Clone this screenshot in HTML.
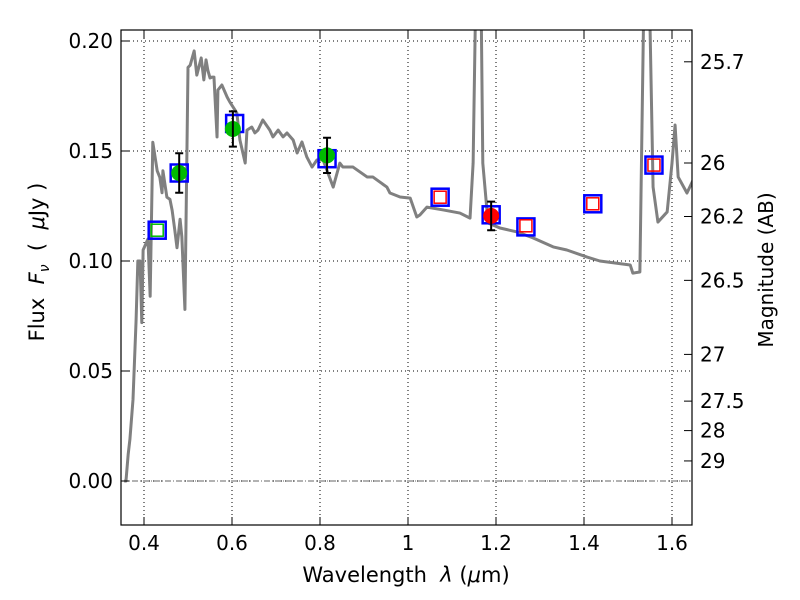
<!DOCTYPE html>
<html><head><meta charset="utf-8"><style>
body{margin:0;background:#fff}
svg{display:block;font-family:"DejaVu Sans","Liberation Sans",sans-serif}
</style></head><body>
<svg id="c" width="800" height="600"></svg>
<script>
const specLam=[0.355,0.359,0.364,0.368,0.375,0.382,0.386,0.391,0.395,0.398,0.409,0.414,0.420,0.430,0.436,0.441,0.443,0.452,0.459,0.464,0.470,0.475,0.482,0.486,0.493,0.500,0.505,0.514,0.520,0.530,0.536,0.541,0.545,0.550,0.555,0.559,0.566,0.568,0.577,0.589,0.595,0.611,0.618,0.630,0.634,0.645,0.652,0.659,0.670,0.686,0.693,0.705,0.716,0.725,0.739,0.748,0.759,0.770,0.782,0.793,0.807,0.830,0.845,0.852,0.875,0.907,0.920,0.952,0.959,0.982,1.005,1.020,1.027,1.043,1.080,1.118,1.141,1.148,1.157,1.164,1.170,1.182,1.209,1.248,1.284,1.330,1.361,1.407,1.436,1.505,1.511,1.527,1.539,1.545,1.557,1.568,1.589,1.600,1.607,1.614,1.634,1.648];
const specFlux=[0,0,0.012,0.019,0.037,0.073,0.100,0.100,0.072,0.105,0.110,0.084,0.154,0.141,0.138,0.131,0.141,0.129,0.128,0.123,0.114,0.106,0.119,0.111,0.078,0.188,0.189,0.1955,0.1845,0.1923,0.1823,0.1914,0.1868,0.1832,0.1836,0.1836,0.1564,0.1777,0.180,0.1745,0.1723,0.1673,0.155,0.1445,0.1595,0.1609,0.1582,0.1595,0.1641,0.1595,0.1564,0.1595,0.1564,0.1582,0.155,0.1491,0.1541,0.1473,0.1427,0.1459,0.1459,0.1336,0.1445,0.1427,0.1427,0.1382,0.1382,0.1336,0.1309,0.1291,0.1286,0.1200,0.1209,0.1245,0.1232,0.1218,0.1195,0.1445,0.26,0.26,0.1445,0.1173,0.115,0.1132,0.1105,0.1064,0.105,0.1018,0.1000,0.0982,0.0945,0.095,0.26,0.26,0.1336,0.1177,0.1223,0.1445,0.1618,0.1382,0.1309,0.1368];
const obsLam=[0.480,0.602,0.816,1.189];
const obsFlux=[0.140,0.160,0.148,0.1205];
const obsErr=[0.009,0.008,0.008,0.0065];
const obsColor=["#00bb00","#00bb00","#00bb00","#ff0000"];
const limLam=[0.430,1.073,1.268,1.420,1.559];
const limFlux=[0.114,0.129,0.116,0.126,0.1436];
const limColor=["#00bb00","#ff0000","#ff0000","#ff0000","#ff0000"];
const modLam=[0.430,0.480,0.606,0.816,1.073,1.189,1.268,1.420,1.559];
const modFlux=[0.114,0.140,0.1625,0.1465,0.129,0.121,0.1155,0.126,0.1436];
const xTicks=[0.4,0.6,0.8,1.0,1.2,1.4,1.6];
const xTickLabels=["0.4","0.6","0.8","1","1.2","1.4","1.6"];
const yTicks=[0,0.05,0.10,0.15,0.20];
const yTickLabels=["0.00","0.05","0.10","0.15","0.20"];
const magTicks=[25.7,26,26.2,26.5,27,27.5,28,29];
const magLabels=["25.7","26","26.2","26.5","27","27.5","28","29"];

const L=121,R=692,T=30,B=525;
const X=v=>144+(v-0.4)*440;
const Y=v=>481-v*2200;
const svg=document.getElementById('c');
const NS="http://www.w3.org/2000/svg";
function mk(t,a,p){const e=document.createElementNS(NS,t);for(const k in a)e.setAttribute(k,a[k]);(p||svg).appendChild(e);return e;}

const defs=mk('defs',{});const cp=mk('clipPath',{id:'pc'},defs);mk('rect',{x:L,y:T,width:R-L,height:B-T},cp);

xTicks.forEach((v,i)=>{const g=mk('line',{x1:X(v),x2:X(v),y1:T,y2:B,stroke:'#000','stroke-dasharray':'1,3','stroke-width':1});
});
yTicks.forEach(v=>{const g=mk('line',{x1:L,x2:R,y1:Y(v),y2:Y(v),stroke:'#000','stroke-dasharray':'1,3','stroke-width':1});
});
const zl=mk('line',{x1:L,x2:R,y1:Y(0),y2:Y(0),stroke:'#666','stroke-dasharray':'6,2,1,2','stroke-width':1});


const sp=mk('polyline',{points:specLam.map((l,i)=>X(l)+','+Y(specFlux[i])).join(' '),fill:'none',stroke:'#808080','stroke-width':3,'clip-path':'url(#pc)','stroke-linejoin':'round'});


modLam.forEach((l,i)=>{const r=mk('rect',{x:X(l)-8.5,y:Y(modFlux[i])-8.5,width:17,height:17,fill:'none',stroke:'#0000ff','stroke-width':2.5});
});
limLam.forEach((l,i)=>{const r=mk('rect',{x:X(l)-6,y:Y(limFlux[i])-6,width:12,height:12,fill:'none',stroke:limColor[i],'stroke-width':1.5});
});
obsLam.forEach((l,i)=>{const x=X(l);
const c=mk('circle',{cx:x,cy:Y(obsFlux[i]),r:8,fill:obsColor[i]});

const e=mk('path',{d:`M${x},${Y(obsFlux[i]+obsErr[i])}V${Y(obsFlux[i]-obsErr[i])}M${x-4},${Y(obsFlux[i]+obsErr[i])}h8M${x-4},${Y(obsFlux[i]-obsErr[i])}h8`,stroke:'#000','stroke-width':2,fill:'none'});
});

const fr=mk('rect',{x:L,y:T,width:R-L,height:B-T,fill:'none',stroke:'#000','stroke-width':1.2});


xTicks.forEach((v,i)=>{const x=X(v);
mk('path',{d:`M${x},${B}v-8M${x},${T}v8`,stroke:'#000','stroke-width':1});
const t=mk('text',{x:x,y:B+25,'text-anchor':'middle','font-size':20});t.textContent=xTickLabels[i];
});
yTicks.forEach((v,i)=>{const y=Y(v);
mk('path',{d:`M${L},${y}h8`,stroke:'#000','stroke-width':1});
const t=mk('text',{x:L-8,y:y+7,'text-anchor':'end','font-size':20});t.textContent=yTickLabels[i];
});
magTicks.forEach((m,i)=>{const y=Y(Math.pow(10,-0.4*(m-23.9)));
mk('path',{d:`M${R},${y}h-8`,stroke:'#000','stroke-width':1});
const t=mk('text',{x:R+8,y:y+7,'font-size':20});t.textContent=magLabels[i];
});
</script>
<svg width="800" height="600" style="position:absolute;left:0;top:0;font-family:'DejaVu Sans','Liberation Sans',sans-serif;white-space:pre">
<text x="406" y="582" text-anchor="middle" font-size="21" xml:space="preserve">Wavelength  <tspan font-style="italic">λ</tspan> (<tspan font-style="italic">μ</tspan>m)</text>
<text transform="translate(44,262) rotate(-90)" text-anchor="middle" font-size="21" xml:space="preserve">Flux  <tspan font-style="italic">F</tspan><tspan font-style="italic" font-size="14" dy="5">ν</tspan><tspan dy="-5">  (  </tspan><tspan font-style="italic">μ</tspan>Jy )</text>
<text transform="translate(773,270) rotate(-90)" text-anchor="middle" font-size="20">Magnitude (AB)</text>
</svg>
</body></html>
